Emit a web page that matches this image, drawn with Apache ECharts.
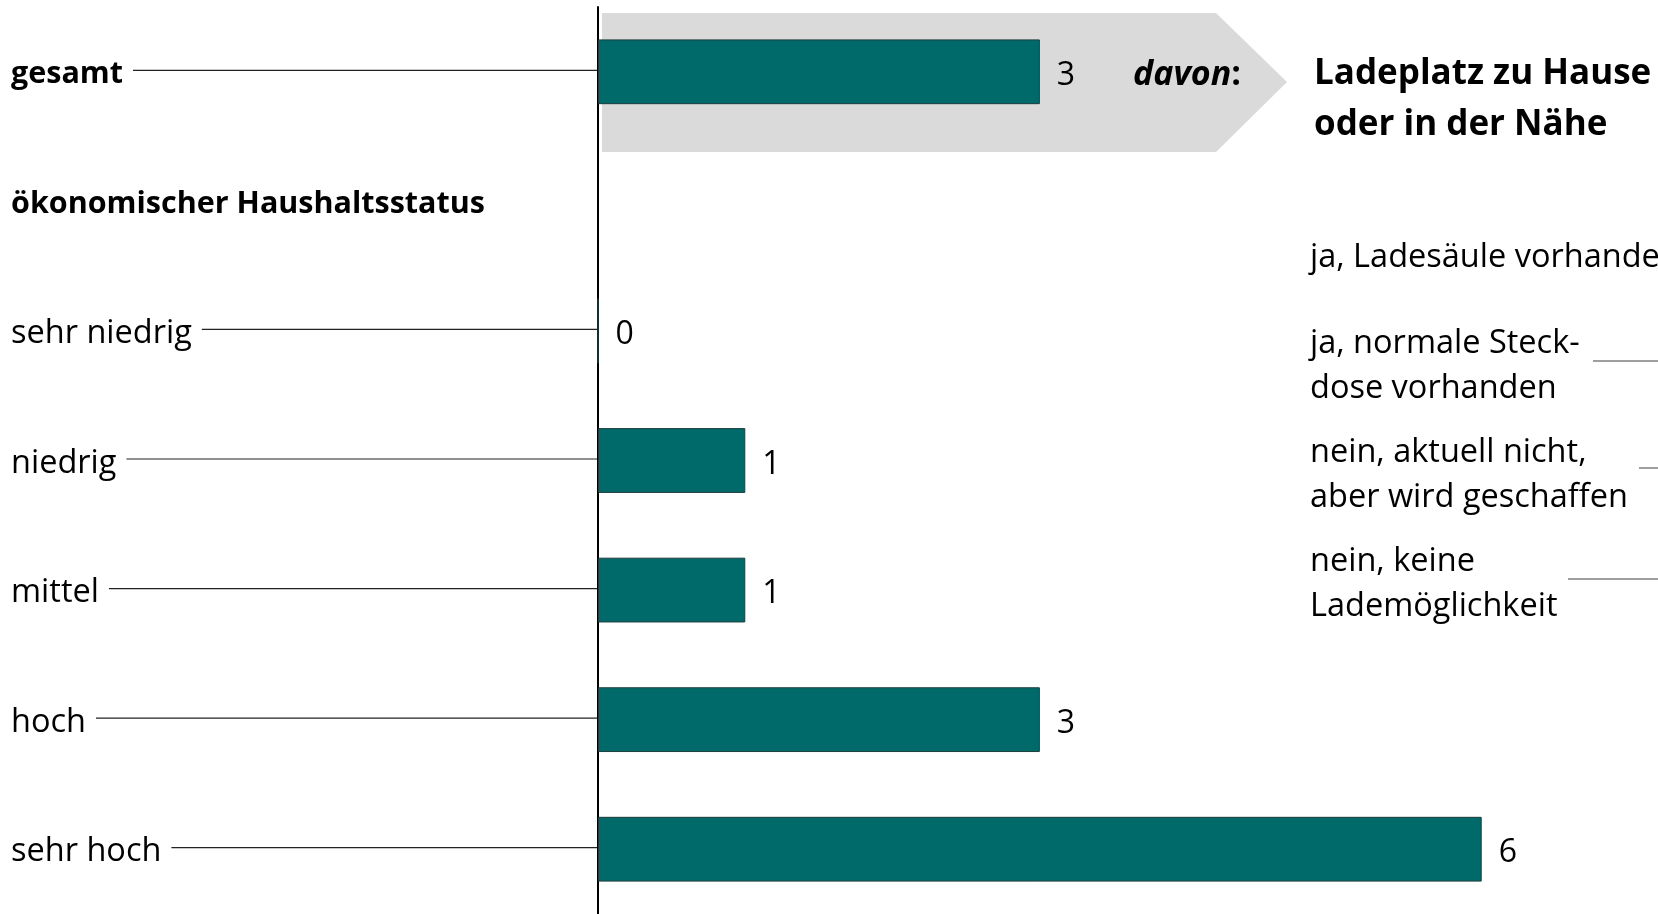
<!DOCTYPE html>
<html>
<head>
<meta charset="utf-8">
<script src="https://cdn.jsdelivr.net/npm/echarts@6/dist/echarts.min.js"></script>
<style>
  html, body { margin: 0; padding: 0; background: #fff; }
  #main { width: 1658px; height: 914px; }
</style>
</head>
<body>
<div id="main"></div>
<script>
// Zeilen der Grafik (von oben nach unten)
const categories = ["gesamt", "ökonomischer Haushaltsstatus", "sehr niedrig", "niedrig", "mittel", "hoch", "sehr hoch"];
const values = [3, "-", 0, 1, 1, 3, 6];
const boldRows = ["gesamt", "ökonomischer Haushaltsstatus"];
const headerRows = ["ökonomischer Haushaltsstatus"];

// rechte Seite: Überschrift und Antwortkategorien
const titleText = "Ladeplatz zu Hause\noder in der Nähe";
const answers = [
  "ja, Ladesäule vorhanden",
  "ja, normale Steck-\ndose vorhanden",
  "nein, aktuell nicht,\naber wird geschaffen",
  "nein, keine\nLademöglichkeit"
];

const FONT = '"Open Sans", sans-serif';
const LABEL_SIZE = 32.5;
const BOLD_SIZE = 30.5;
const LABEL_MARGIN = 587;

// Breite der Achsenbeschriftung messen (für die Führungslinien)
const measureCtx = document.createElement("canvas").getContext("2d");
function textWidth(s, bold) {
  measureCtx.font = bold ? "bold " + BOLD_SIZE + 'px "Open Sans"' : LABEL_SIZE + 'px "Open Sans"';
  return measureCtx.measureText(s).width;
}

function answerText(i, y) {
  return {
    type: "text",
    x: 1310,
    y: y,
    style: { text: answers[i], fontFamily: FONT, fontSize: LABEL_SIZE, lineHeight: 45, verticalAlign: "middle", fill: "#000" }
  };
}

const chart = echarts.init(document.getElementById("main"));

const option = {
  backgroundColor: "#fff",
  animation: false,
  grid: { left: 598, right: 29, top: 7, height: 909 },
  xAxis: {
    type: "value",
    min: 0,
    max: 7,
    show: false
  },
  yAxis: {
    type: "category",
    inverse: true,
    data: categories,
    axisLine: { show: true, lineStyle: { color: "#000", width: 2 } },
    axisTick: { show: false },
    splitLine: { show: false },
    axisLabel: {
      align: "left",
      margin: LABEL_MARGIN,
      padding: [6, 0, 0, 0],
      formatter: function (v) {
        return boldRows.includes(v) ? "{b|" + v + "}" : "{n|" + v + "}";
      },
      rich: {
        b: { fontFamily: FONT, fontSize: BOLD_SIZE, fontWeight: "bold", color: "#000" },
        n: { fontFamily: FONT, fontSize: LABEL_SIZE, color: "#000" }
      }
    }
  },
  graphic: [
    {
      // grauer Pfeil hinter dem Gesamtbalken
      type: "polygon",
      z: -10,
      shape: { points: [[602, 13], [1216, 13], [1287, 82], [1216, 152], [602, 152]] },
      style: { fill: "#dadada" }
    },
    {
      type: "text",
      x: 1133,
      y: 75,
      style: {
        text: "{i|davon}{c|:}",
        verticalAlign: "middle",
        rich: {
          i: { fontFamily: FONT, fontSize: 34, fontWeight: "bold", fontStyle: "italic", fill: "#000" },
          c: { fontFamily: FONT, fontSize: 34, fontWeight: "bold", fill: "#000" }
        }
      }
    },
    {
      type: "text",
      x: 1314,
      y: 100,
      style: {
        text: titleText,
        fontFamily: FONT,
        fontSize: 35,
        fontWeight: "bold",
        lineHeight: 51,
        verticalAlign: "middle",
        fill: "#000"
      }
    },
    answerText(0, 258),
    answerText(1, 366),
    answerText(2, 475.5),
    answerText(3, 584.5),
    { type: "line", shape: { x1: 1593, y1: 361, x2: 1658, y2: 361 }, style: { stroke: "#7f7f7f", lineWidth: 1.5 } },
    { type: "line", shape: { x1: 1639, y1: 468, x2: 1658, y2: 468 }, style: { stroke: "#7f7f7f", lineWidth: 1.5 } },
    { type: "line", shape: { x1: 1568, y1: 579, x2: 1658, y2: 579 }, style: { stroke: "#7f7f7f", lineWidth: 1.5 } }
  ],
  series: [
    {
      type: "bar",
      data: values,
      barWidth: "50%",
      itemStyle: { color: "#006a6a", borderColor: "#1e3c3c", borderWidth: 1 },
      label: {
        show: true,
        position: "right",
        distance: 14,
        offset: [3, 4],
        fontFamily: FONT,
        fontSize: 32,
        color: "#000"
      },
      z: 3
    },
    {
      // Führungslinien von der Beschriftung zur Achse
      type: "custom",
      data: categories.map(function (c) { return [0, c]; }),
      silent: true,
      renderItem: function (params, api) {
        const name = categories[params.dataIndex];
        if (headerRows.includes(name)) return null;
        const p = api.coord([api.value(0), api.value(1)]);
        const x0 = p[0] - LABEL_MARGIN + textWidth(name, boldRows.includes(name)) + 10;
        return {
          type: "line",
          shape: { x1: x0, y1: p[1] - 1.5, x2: p[0] - 1, y2: p[1] - 1.5 },
          style: { stroke: "#222", lineWidth: 1.2 }
        };
      }
    }
  ]
};

chart.setOption(option);
</script>
</body>
</html>
